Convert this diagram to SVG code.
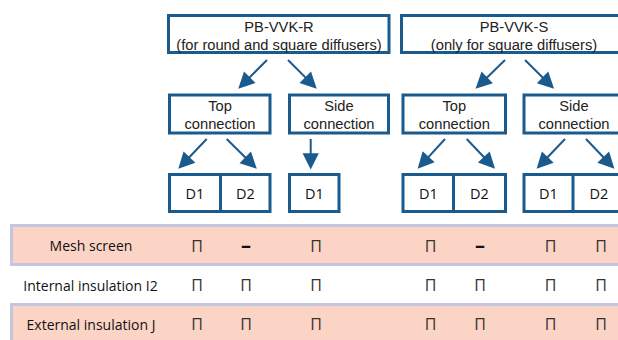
<svg xmlns="http://www.w3.org/2000/svg" width="618" height="340" viewBox="0 0 618 340">
<style>
.box{fill:#fff;stroke:#1b5a8c;stroke-width:3}
.div{stroke:#1b5a8c;stroke-width:3}
.bt{font-family:"Liberation Sans",Arial,sans-serif;font-size:14.7px;fill:#222;text-anchor:middle}
.dt{font-family:"Open Sans","Noto Sans",sans-serif;font-size:14.5px;fill:#111;text-anchor:middle}
.rl{font-family:"Open Sans","Noto Sans",sans-serif;font-size:14px;fill:#111;text-anchor:middle}
.ck{font-family:"Open Sans","Noto Sans",sans-serif;font-size:16px;fill:#333;text-anchor:middle}
.ds{font-family:"Open Sans","Noto Sans",sans-serif;font-size:20px;font-weight:bold;fill:#111;text-anchor:middle}
.arr{stroke:#1b5a8c;stroke-width:2;fill:none;marker-end:url(#ah)}
.band-b{fill:#c3c6e0}
.band-p{fill:#fbd4c5}
</style>
<defs>
<marker id="ah" markerUnits="userSpaceOnUse" markerWidth="20" markerHeight="20" refX="0" refY="0" viewBox="-4 -8 16 16" orient="auto">
<path d="M-3,-6.5 L10,0 L-3,6.5 Z" fill="#1b5a8c"/>
</marker>
</defs>

<g id="bands">
<rect class="band-b" x="10" y="224" width="612" height="42"/>
<rect class="band-p" x="13" y="227" width="609" height="36"/>
<rect class="band-b" x="10" y="303" width="612" height="40"/>
<rect class="band-p" x="13" y="306" width="609" height="37"/>
</g>

<g id="node-pbvvkr">
<rect class="box" x="168.5" y="15.5" width="220.5" height="37"/>
<text class="bt" x="279" y="32">PB-VVK-R</text>
<text class="bt" x="279" y="49.5">(for round and square diffusers)</text>
</g>
<g id="node-pbvvks">
<rect class="box" x="401.5" y="15.5" width="225" height="37"/>
<text class="bt" x="514" y="32">PB-VVK-S</text>
<text class="bt" x="514" y="49.5">(only for square diffusers)</text>
</g>

<g id="node-r-top">
<rect class="box" x="169.5" y="95" width="100.5" height="38"/>
<text class="bt" x="220" y="111">Top</text>
<text class="bt" x="220" y="129.3">connection</text>
</g>
<g id="node-r-side">
<rect class="box" x="289.5" y="95" width="99" height="38"/>
<text class="bt" x="339" y="111">Side</text>
<text class="bt" x="339" y="129.3">connection</text>
</g>
<g id="node-s-top">
<rect class="box" x="403" y="95" width="102.5" height="38"/>
<text class="bt" x="454.3" y="111">Top</text>
<text class="bt" x="454.3" y="129.3">connection</text>
</g>
<g id="node-s-side">
<rect class="box" x="524" y="95" width="100" height="38"/>
<text class="bt" x="574" y="111">Side</text>
<text class="bt" x="574" y="129.3">connection</text>
</g>

<g id="node-r-top-d">
<rect class="box" x="169.5" y="174.5" width="100.5" height="37"/>
<line class="div" x1="220.5" y1="174.5" x2="220.5" y2="211.5"/>
<text class="dt" x="195" y="199.3">D1</text>
<text class="dt" x="245.3" y="199.3">D2</text>
</g>
<g id="node-r-side-d">
<rect class="box" x="289.5" y="174.5" width="49.5" height="37"/>
<text class="dt" x="314.3" y="199.3">D1</text>
</g>
<g id="node-s-top-d">
<rect class="box" x="403" y="174.5" width="102.5" height="37"/>
<line class="div" x1="453.5" y1="174.5" x2="453.5" y2="211.5"/>
<text class="dt" x="428.3" y="199.3">D1</text>
<text class="dt" x="479.5" y="199.3">D2</text>
</g>
<g id="node-s-side-d">
<rect class="box" x="524" y="174.5" width="100" height="37"/>
<line class="div" x1="573" y1="174.5" x2="573" y2="211.5"/>
<text class="dt" x="548.5" y="199.3">D1</text>
<text class="dt" x="599" y="199.3">D2</text>
</g>

<g id="connectors">
<line class="arr" x1="267" y1="60" x2="247.1" y2="79.9"/>
<line class="arr" x1="288" y1="60" x2="307.9" y2="79.9"/>
<line class="arr" x1="206.7" y1="139" x2="186.9" y2="159.8"/>
<line class="arr" x1="226.7" y1="139" x2="247.9" y2="160"/>
<line class="arr" x1="310.7" y1="139" x2="310.7" y2="157"/>
<line class="arr" x1="505" y1="60" x2="484.5" y2="80"/>
<line class="arr" x1="525" y1="60" x2="545.2" y2="80"/>
<line class="arr" x1="445" y1="139" x2="426.1" y2="159.6"/>
<line class="arr" x1="466.7" y1="139" x2="486.4" y2="159.7"/>
<line class="arr" x1="565" y1="139" x2="545.2" y2="159.8"/>
<line class="arr" x1="586" y1="139" x2="605.8" y2="159.8"/>
</g>

<g id="row-mesh">
<text class="rl" x="91" y="250.7">Mesh screen</text>
<text class="ck" x="197" y="251.5">Π</text>
<text class="ds" x="246" y="251.5">–</text>
<text class="ck" x="316" y="251.5">Π</text>
<text class="ck" x="430.5" y="251.5">Π</text>
<text class="ds" x="480" y="251.5">–</text>
<text class="ck" x="550.5" y="251.5">Π</text>
<text class="ck" x="601" y="251.5">Π</text>
</g>
<g id="row-internal">
<text class="rl" x="90.5" y="291">Internal insulation I2</text>
<text class="ck" x="197" y="291">Π</text>
<text class="ck" x="246" y="291">Π</text>
<text class="ck" x="316" y="291">Π</text>
<text class="ck" x="430.5" y="291">Π</text>
<text class="ck" x="480" y="291">Π</text>
<text class="ck" x="550.5" y="291">Π</text>
<text class="ck" x="601" y="291">Π</text>
</g>
<g id="row-external">
<text class="rl" x="91" y="330">External insulation J</text>
<text class="ck" x="197" y="330">Π</text>
<text class="ck" x="246" y="330">Π</text>
<text class="ck" x="316" y="330">Π</text>
<text class="ck" x="430.5" y="330">Π</text>
<text class="ck" x="480" y="330">Π</text>
<text class="ck" x="550.5" y="330">Π</text>
<text class="ck" x="601" y="330">Π</text>
</g>
</svg>
